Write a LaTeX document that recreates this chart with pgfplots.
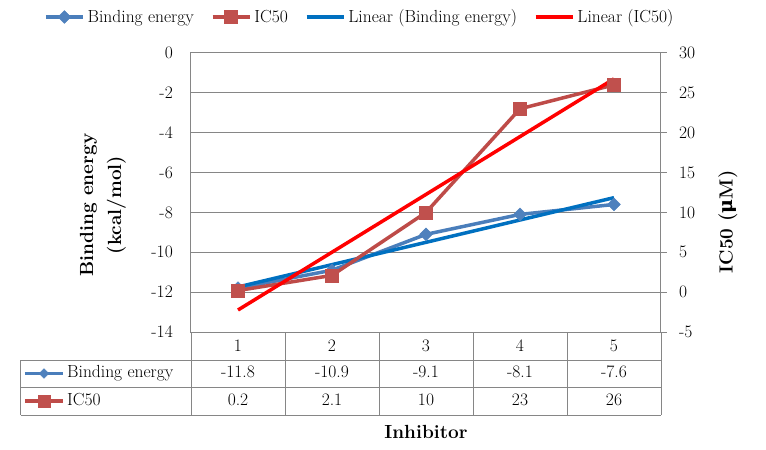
\documentclass[border=0pt]{standalone}
\usepackage{fontspec}
\usepackage{pgfplots}
\pgfplotsset{compat=1.18}
\newfontfamily\dvs{DejaVu Serif}

\definecolor{beline}{HTML}{4A7EBB}
\definecolor{befill}{HTML}{4F81BD}
\definecolor{icline}{HTML}{BE4B48}
\definecolor{icfill}{HTML}{C0504D}
\definecolor{linblue}{HTML}{0070C0}
\definecolor{linred}{HTML}{FF0000}
\definecolor{gridgray}{HTML}{868686}

\newcommand\tf{\fontsize{17.5bp}{20bp}\selectfont}
\newcommand\ttl{\fontsize{19bp}{28bp}\selectfont\bfseries}

\pgfplotsset{
  bestyle/.style={color=beline, line width=3.5bp, mark=square*,
    mark size=4.5bp, mark options={rotate=45, fill=befill, draw=befill, line width=0.5bp}},
  icstyle/.style={color=icline, line width=3.5bp, mark=square*,
    mark size=6.5bp, mark options={fill=icfill, draw=icfill, line width=0.5bp}},
  linbe/.style={color=linblue, line width=3.5bp, no markers},
  linic/.style={color=linred, line width=3.5bp, no markers},
  common/.style={
    at={(0,0)}, anchor=south west,
    scale only axis, width=470bp, height=279bp,
    xmin=0.5, xmax=5.5, xtick=\empty,
    /pgf/number format/assume math mode=true,
    ticklabel style={font=\tf},
    axis line style={line width=1bp, gridgray},
  },
}

\begin{document}
\begin{tikzpicture}
\path[use as bounding box] (-191bp,-118bp) rectangle (575bp,332bp);

% left axis: binding energy
\begin{axis}[common,
  ymin=-14, ymax=0, ytick={-14,-12,...,0},
  ymajorgrids, grid style={line width=1bp, gridgray},
  ytick style={draw=none},
  yticklabel style={inner sep=0pt, xshift=-18bp},
]
\addplot[bestyle] coordinates {(1,-11.8) (2,-10.9) (3,-9.1) (4,-8.1) (5,-7.6)};
\addplot[linbe] coordinates {(1,-11.74) (5,-7.26)};
\end{axis}

% right axis: IC50
\begin{axis}[common,
  axis x line=none, axis y line*=right,
  ymin=-5, ymax=30, ytick={-5,0,...,30},
  tick align=outside, major tick length=6bp,
  ytick style={line width=1bp, gridgray},
  yticklabel style={inner sep=0pt, xshift=12bp},
  legend columns=4,
  legend style={draw=none, fill=none, font=\tf,
    at={(-0.3128,1.129)}, anchor=west, inner xsep=0pt, inner ysep=0pt,
    /tikz/every even column/.append style={column sep=14bp},
    nodes={inner xsep=3bp}},
  legend image code/.code={
    \draw[#1, mark repeat=2, mark phase=2] plot coordinates {(0bp,0bp) (18.5bp,0bp) (37bp,0bp)};},
]
\addlegendimage{bestyle}
\addlegendentry{Binding energy}
\addplot[icstyle] coordinates {(1,0.2) (2,2.1) (3,10) (4,23) (5,26)};
\addlegendentry{IC50}
\addlegendimage{linbe}
\addlegendentry{Linear (Binding energy)}
\addplot[linic] coordinates {(1,-2.24) (5,26.76)};
\addlegendentry{Linear (IC50)}
\end{axis}

% data table
\begin{scope}[gridgray, line width=1bp]
  \foreach \x in {0,94,188,282,376,470} \draw (\x bp,0bp) -- (\x bp,-83bp);
  \draw (-170bp,-28bp) -- (470bp,-28bp);
  \draw (-170bp,-55bp) -- (470bp,-55bp);
  \draw (-170bp,-83bp) -- (470bp,-83bp);
  \draw (-170bp,-28bp) -- (-170bp,-83bp);
\end{scope}
\foreach \v [count=\i] in {1,2,3,4,5}
  \node[font=\tf, anchor=base] at ({(\i-0.5)*94bp},-19.5bp) {\v};
\foreach \v [count=\i] in {-11.8,-10.9,-9.1,-8.1,-7.6}
  \node[font=\tf, anchor=base] at ({(\i-0.5)*94bp},-45.7bp) {\v};
\foreach \v [count=\i] in {0.2,2.1,10,23,26}
  \node[font=\tf, anchor=base] at ({(\i-0.5)*94bp},-73.5bp) {\v};

% table keys
\draw[beline, line width=3.5bp] (-166bp,-41.5bp) -- (-128bp,-41.5bp);
\node[fill=befill, draw=befill, rotate=45, minimum size=7bp, inner sep=0pt] at (-147bp,-41.5bp) {};
\draw[icline, line width=3.5bp] (-166bp,-69bp) -- (-128bp,-69bp);
\node[fill=icfill, draw=icfill, minimum size=12bp, inner sep=0pt] at (-147bp,-69bp) {};
\node[font=\tf, anchor=base west, inner sep=0pt] at (-124bp,-45.7bp) {Binding energy};
\node[font=\tf, anchor=base west, inner sep=0pt] at (-124bp,-73.5bp) {IC50};

% axis titles
\node[font=\ttl, rotate=90, align=center] at (-88bp,127bp) {Binding energy\\(kcal/mol)};
\node[font=\ttl, rotate=90] at (537bp,110bp) {IC50 ({\dvs\bfseries μ}M)};
\node[font=\ttl] at (235bp,-99.5bp) {Inhibitor};
\end{tikzpicture}
\end{document}
